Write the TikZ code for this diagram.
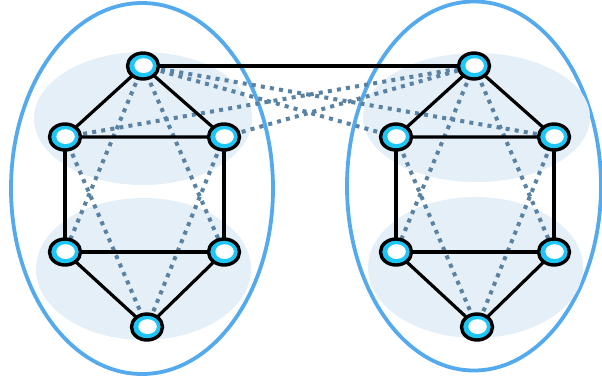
\documentclass[tikz,border=0pt]{standalone}
\usetikzlibrary{shapes.geometric}
\definecolor{outerblue}{HTML}{55AAEE}
\definecolor{bgblue}{HTML}{E5EFF8}
\definecolor{dotblue}{HTML}{5A82A3}
\definecolor{vcyan}{HTML}{1EC6F8}
\tikzset{
  outer/.style={draw=outerblue, line width=3.8pt},
  bg/.style={fill=bgblue},
  vtx/.style={ellipse, draw=black, line width=3.4pt, fill=vcyan, minimum width=31pt, minimum height=26pt, inner sep=0pt,
    path picture={\fill[white] ([xshift=0.6pt,yshift=0.4pt]path picture bounding box.center) ellipse (9.2pt and 7.4pt);}},
  sedge/.style={draw=black, line width=3.2pt},
  dedge/.style={draw=dotblue, line width=4pt, dash pattern=on 4pt off 5.2pt}
}
\begin{document}
\begin{tikzpicture}[x=1pt,y=-1pt]
\useasboundingbox (0,0) rectangle (602,381);
% outer ellipses
\draw[outer] (142,188.5) ellipse (131 and 185.5);
\draw[outer] (474,186) ellipse (127 and 184.5);
% background ellipses
\fill[bg] (143,118.5) ellipse (109 and 66.5);
\fill[bg] (143.5,269) ellipse (107.5 and 71);
\fill[bg] (476.5,117.5) ellipse (113.5 and 64.5);
\fill[bg] (475.5,267.5) ellipse (107.5 and 70.5);
% vertex coordinates
\coordinate (l1) at (143,66);
\coordinate (l2) at (65,137);
\coordinate (l3) at (224,137);
\coordinate (l4) at (65,252);
\coordinate (l5) at (224,252);
\coordinate (l6) at (147,327);
\coordinate (r1) at (474,66);
\coordinate (r2) at (396,137);
\coordinate (r3) at (554,137);
\coordinate (r4) at (396,252);
\coordinate (r5) at (554,252);
\coordinate (r6) at (477,327);
% dotted edges
\draw[dedge] (l1) -- (l4);
\draw[dedge] (l1) -- (l5);
\draw[dedge] (l2) -- (l6);
\draw[dedge] (l3) -- (l6);
\draw[dedge] (r1) -- (r4);
\draw[dedge] (r1) -- (r5);
\draw[dedge] (r2) -- (r6);
\draw[dedge] (r3) -- (r6);
\draw[dedge] (l1) -- (r2);
\draw[dedge] (l1) -- (r3);
\draw[dedge] (l2) -- (r1);
\draw[dedge] (l3) -- (r1);
% solid edges
\draw[sedge] (l1) -- (l2) -- (l3) -- (l1);
\draw[sedge] (l2) -- (l4) -- (l5) -- (l3);
\draw[sedge] (l4) -- (l6) -- (l5);
\draw[sedge] (r1) -- (r2) -- (r3) -- (r1);
\draw[sedge] (r2) -- (r4) -- (r5) -- (r3);
\draw[sedge] (r4) -- (r6) -- (r5);
\draw[sedge] (l1) -- (r1);
% vertices
\foreach \n in {l1,l2,l3,l4,l5,l6,r1,r2,r3,r4,r5,r6}
  \node[vtx] (v\n) at (\n) {};
\end{tikzpicture}
\end{document}
